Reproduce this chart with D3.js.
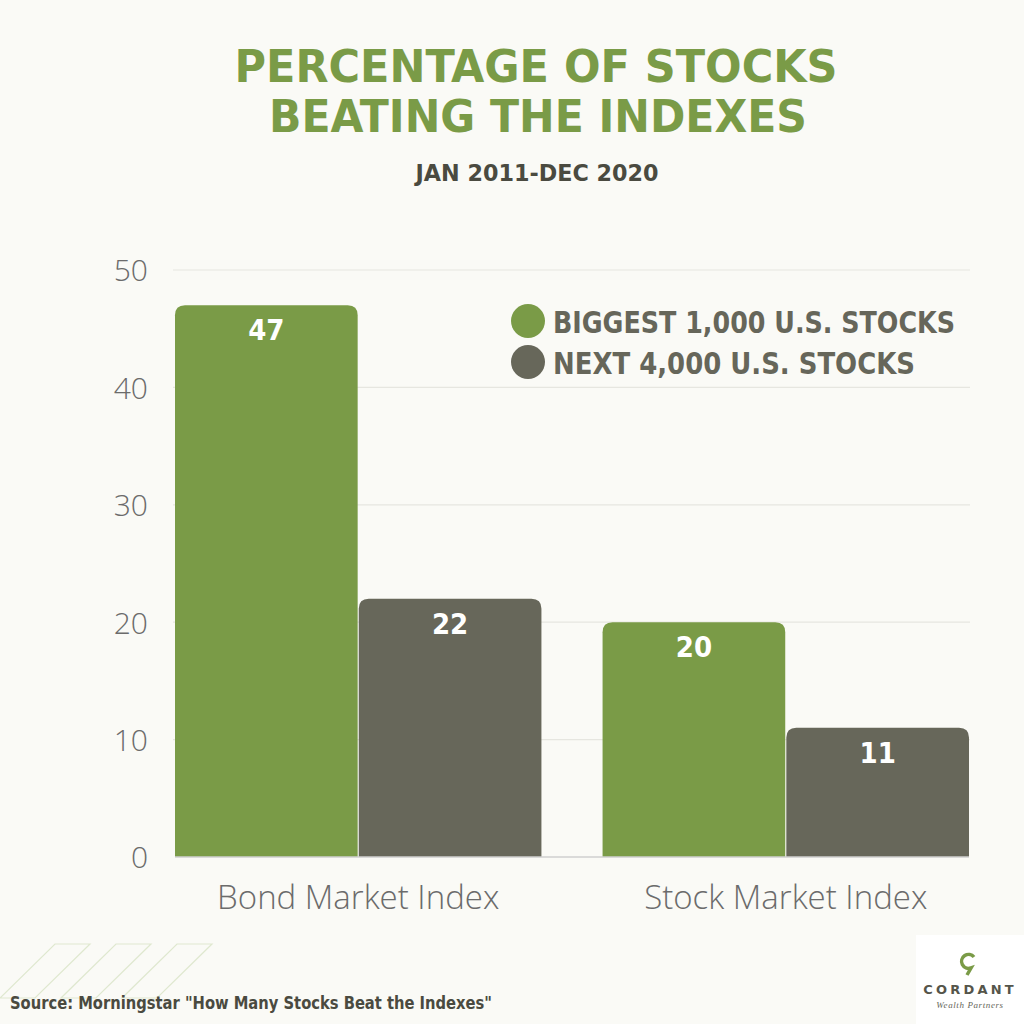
<!DOCTYPE html>
<html><head><meta charset="utf-8">
<script src="https://cdn.jsdelivr.net/npm/d3@7"></script>
<style>html,body{margin:0;padding:0;background:#fafaf6;}svg{display:block;}</style>
</head><body>
<script>
const categories = ["Bond Market Index", "Stock Market Index"];
const seriesNames = ["BIGGEST 1,000 U.S. STOCKS", "NEXT 4,000 U.S. STOCKS"];
const biggest1000 = [47, 20];
const next4000 = [22, 11];
const yTicks = [0, 10, 20, 30, 40, 50];
const colors = ["#7a9b47", "#67675a"];

const W = 1024, H = 1024;
const svg = d3.select("body").append("svg").attr("width", W).attr("height", H);
svg.append("rect").attr("width", W).attr("height", H).attr("fill", "#fafaf6");

// decorative parallelograms bottom-left
const deco = svg.append("g").attr("fill", "none").attr("stroke", "#dfe8cf").attr("stroke-width", 1.2);
[0, 1, 2].forEach(i => {
  const x0 = 55 + i * 61;
  deco.append("path").attr("d", `M${x0},944 L${x0 + 35},944 L${x0 - 20},998 L${x0 - 55},998 Z`);
});

const plotL = 173, plotR = 970;
const y = d3.scaleLinear().domain([0, 50]).range([857, 270]);
const x0 = d3.scaleBand().domain(categories).range([175, 969]).paddingInner(0.143).paddingOuter(0);
const x1 = d3.scaleBand().domain(seriesNames).range([0, x0.bandwidth()]).paddingInner(0.006);

// gridlines
svg.append("g").selectAll("line").data(yTicks.filter(t => t > 0)).join("line")
  .attr("x1", plotL).attr("x2", plotR)
  .attr("y1", d => y(d)).attr("y2", d => y(d))
  .attr("stroke", "#e6e6e0").attr("stroke-width", 1.2);

// y axis labels
const yAxis = d3.axisLeft(y).tickValues(yTicks).tickSize(0).tickPadding(0);
const ya = svg.append("g").attr("transform", "translate(148,0)").call(yAxis);
ya.select(".domain").remove();
ya.selectAll("text").attr("font-family", "'Open Sans', sans-serif").attr("font-weight", 300)
  .attr("font-size", 30).attr("fill", "#6b6b6b").attr("dy", "0.36em");

// bars
const rows = categories.map((c, i) => ({cat: c, vals: [biggest1000[i], next4000[i]]}));
const r = 10;
function topRounded(x, yTop, w, yBot, rr) {
  return `M${x},${yBot} L${x},${yTop + rr} Q${x},${yTop} ${x + rr},${yTop} L${x + w - rr},${yTop} Q${x + w},${yTop} ${x + w},${yTop + rr} L${x + w},${yBot} Z`;
}
const g = svg.append("g");
rows.forEach(row => {
  row.vals.forEach((v, j) => {
    const bx = x0(row.cat) + x1(seriesNames[j]);
    const bw = x1.bandwidth();
    g.append("path").attr("d", topRounded(bx, y(v), bw, y(0), r)).attr("fill", colors[j]);
    g.append("text").attr("x", bx + bw / 2).attr("y", y(v) + 35)
      .attr("text-anchor", "middle").attr("font-family", "'DejaVu Sans Condensed', 'DejaVu Sans', sans-serif")
      .attr("font-weight", "bold").attr("font-size", 29).attr("fill", "#ffffff").text(v);
  });
});

// baseline
svg.append("line").attr("x1", 175).attr("x2", 969).attr("y1", y(0)).attr("y2", y(0))
  .attr("stroke", "#cfcfcf").attr("stroke-width", 1.5);

// x axis labels
const xAxis = d3.axisBottom(x0).tickSize(0).tickPadding(0);
const xa = svg.append("g").attr("transform", `translate(0,${y(0) + 52})`).call(xAxis);
xa.select(".domain").remove();
xa.selectAll("text").attr("font-family", "'Open Sans', sans-serif").attr("font-weight", 300)
  .attr("font-size", 33).attr("fill", "#6b6b6b").attr("dy", 0);

// title
const titleFont = "'DejaVu Sans Condensed', 'DejaVu Sans', sans-serif";
svg.append("text").attr("x", 536).attr("y", 82).attr("text-anchor", "middle")
  .attr("font-family", titleFont).attr("font-weight", "bold").attr("font-size", 45)
  .attr("fill", "#7a9b47").attr("textLength", 603).attr("lengthAdjust", "spacingAndGlyphs")
  .text("PERCENTAGE OF STOCKS");
svg.append("text").attr("x", 538).attr("y", 132).attr("text-anchor", "middle")
  .attr("font-family", titleFont).attr("font-weight", "bold").attr("font-size", 45)
  .attr("fill", "#7a9b47").attr("textLength", 538).attr("lengthAdjust", "spacingAndGlyphs")
  .text("BEATING THE INDEXES");
svg.append("text").attr("x", 537).attr("y", 181).attr("text-anchor", "middle")
  .attr("font-family", titleFont).attr("font-weight", "bold").attr("font-size", 23)
  .attr("fill", "#4a4a40").attr("textLength", 243).attr("lengthAdjust", "spacingAndGlyphs")
  .text("JAN 2011-DEC 2020");

// legend
const legLens = [402, 362];
seriesNames.forEach((s, i) => {
  const cy = 321 + i * 41;
  svg.append("circle").attr("cx", 528).attr("cy", cy).attr("r", 17).attr("fill", colors[i]);
  svg.append("text").attr("x", 553).attr("y", cy + 12).attr("font-family", titleFont)
    .attr("font-weight", "bold").attr("font-size", 31).attr("fill", "#66665a")
    .attr("textLength", legLens[i]).attr("lengthAdjust", "spacingAndGlyphs").text(s);
});

// source
svg.append("text").attr("x", 10).attr("y", 1009).attr("font-family", titleFont)
  .attr("font-weight", "bold").attr("font-size", 18).attr("fill", "#4a4a40")
  .attr("textLength", 482).attr("lengthAdjust", "spacingAndGlyphs")
  .text('Source: Morningstar "How Many Stocks Beat the Indexes"');

// logo
svg.append("rect").attr("x", 916).attr("y", 935).attr("width", 108).attr("height", 89).attr("fill", "#ffffff");
svg.append("path").attr("d", "M974,957 A7,7 0 1 0 971,968 L967,975")
  .attr("fill", "none").attr("stroke", "#7a9b47").attr("stroke-width", 3.5).attr("stroke-linecap", "butt");
svg.append("text").attr("x", 970).attr("y", 994).attr("text-anchor", "middle")
  .attr("font-family", "'DejaVu Sans', sans-serif").attr("font-weight", "bold").attr("font-size", 13)
  .attr("fill", "#55554a").attr("letter-spacing", 3.2).text("CORDANT");
svg.append("text").attr("x", 970).attr("y", 1008).attr("text-anchor", "middle")
  .attr("font-family", "'Liberation Serif', serif").attr("font-style", "italic").attr("font-size", 9)
  .attr("fill", "#66665a").attr("letter-spacing", 0.6).text("Wealth Partners");
</script>
</body></html>
